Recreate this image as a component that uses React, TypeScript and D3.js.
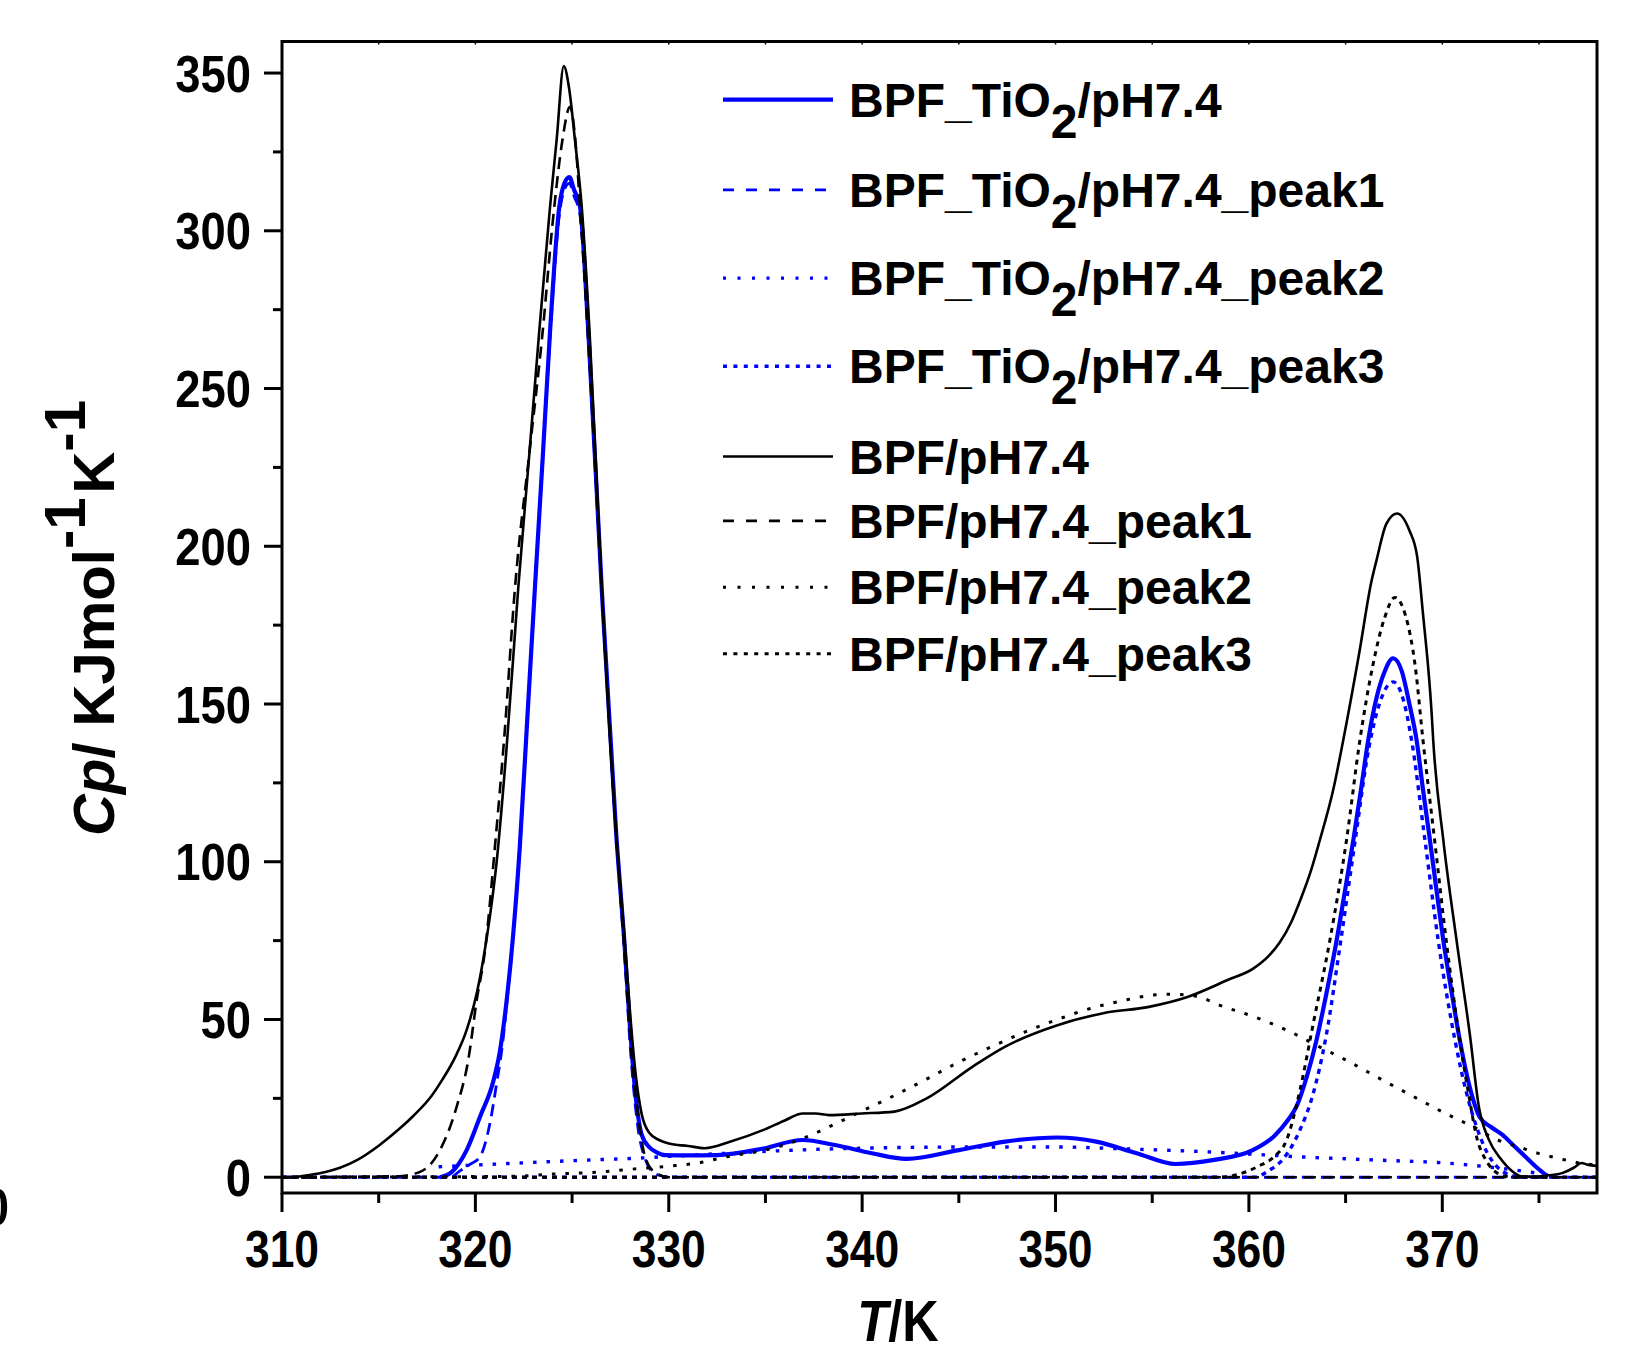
import React from "react";
import * as d3 from "d3";

// [T (K), Cp (kJ/mol/K)]
const tio2Total: [number, number][] = [
  [318.17, 0], [318.77, 1.6], [319.55, 8.6], [320.24, 19.2], [320.93, 30.5], [321.27, 40],
  [321.62, 56.2], [321.96, 77.3], [322.3, 105], [322.7, 147], [323.08, 187], [323.5, 230],
  [323.86, 268], [324.34, 307.6], [324.6, 315], [324.86, 317], [325.1, 313], [325.41, 307.6],
  [325.84, 268], [326.53, 187], [327.3, 107], [327.7, 75], [328.0, 47], [328.3, 25],
  [328.6, 13.5], [329.0, 9.5], [329.4, 7.8], [329.83, 7.0], [331, 6.9], [332.5, 7.0],
  [334.9, 9.1], [336.9, 11.8], [338.6, 10.2], [340.5, 7.6], [342.3, 5.8], [345.0, 8.6],
  [347.4, 11.3], [350.1, 12.6], [352.1, 11.3], [354.2, 7.6], [356.2, 4.2], [358.2, 5.5],
  [360.2, 8.6], [361.3, 13], [362.0, 18], [362.47, 22.5], [363, 32], [363.5, 43.6],
  [364, 58], [364.54, 75.2], [365, 92], [365.4, 106.9], [365.8, 123], [366.17, 138.6],
  [366.6, 152], [367, 160], [367.46, 164.5], [367.9, 160.5], [368.3, 150], [368.67, 138.6],
  [369, 123], [369.36, 106.9], [369.7, 91], [370.05, 75.2], [370.5, 58], [370.9, 43.6],
  [371.4, 29], [371.94, 19], [372.5, 16], [373.1, 13.5], [373.7, 10], [374.3, 6.5],
  [374.9, 3], [375.4, 0.5],
];

const tio2Peak1: [number, number][] = [
  [310, 0], [318.7, 0], [319.2, 2], [319.7, 4], [320.24, 6.5], [320.75, 17], [321.1, 29.8],
  [321.4, 42], [321.7, 60], [322.0, 80], [322.3, 105], [322.7, 147], [323.08, 187],
  [323.5, 230], [323.86, 266], [324.34, 305], [324.6, 313], [324.86, 315], [325.1, 311],
  [325.41, 305], [325.84, 266], [326.53, 187], [327.3, 107], [327.7, 73], [328.0, 42],
  [328.4, 16], [328.8, 5.5], [329.2, 1.5], [329.7, 0.3], [330.1, 0], [378, 0],
];

const tio2Peak2: [number, number][] = [
  [318.1, 3.3], [320.2, 3.9], [323.7, 4.9], [326.5, 5.6], [328.3, 6.0], [330, 6.6],
  [333, 7.6], [336.6, 8.6], [340, 9.2], [343, 9.5], [346.7, 9.6], [350, 9.6], [353.5, 9.0],
  [356.9, 8.3], [360.2, 7.3], [362.5, 6.5], [366.8, 5.4], [370.4, 4.4], [372, 3.5],
  [373.7, 2.3], [375, 1.2], [375.8, 0.4],
];

const tio2Peak3: [number, number][] = [
  [310, 0], [360.3, 0], [361, 2], [361.8, 6], [362.64, 15], [363.3, 26], [364.0, 45],
  [364.75, 75], [365.5, 107], [366.2, 136], [366.8, 151], [367.46, 157], [368, 151],
  [368.41, 138.6], [369.1, 107], [369.79, 75], [370.65, 43.6], [371.2, 28], [371.77, 16],
  [372.3, 8], [372.8, 3.5], [373.3, 1.2], [373.8, 0.3], [374.3, 0], [378, 0],
];

const bpfTotal: [number, number][] = [
  [310.0, 0], [310.8, 0.2], [311.5, 0.8], [312.2, 1.6], [313.0, 3], [313.9, 5.5], [315.0, 10],
  [316.1, 15.5], [316.8, 19.5], [317.7, 25.5], [318.3, 31], [318.95, 38], [319.55, 46.7],
  [320.07, 58.3], [320.4, 68.8], [320.75, 82.6], [321.1, 100], [321.6, 135], [322.22, 187],
  [322.8, 230], [323.3, 268], [323.86, 307.6], [324.2, 328.7], [324.57, 352.2], [324.85, 345],
  [325.15, 328.7], [325.5, 307.6], [325.93, 265], [326.53, 187], [327.3, 107], [327.7, 77],
  [328.0, 52], [328.3, 32], [328.6, 20], [329.0, 14], [329.5, 11.8], [330.0, 10.7],
  [331.0, 9.9], [331.86, 9.2], [333.2, 11.3], [334.9, 15], [336.0, 18], [336.93, 20.2],
  [337.6, 20.2], [338.28, 19.7], [339.97, 20.2], [341.66, 20.8], [343.34, 25], [345.7, 35],
  [347.4, 41.4], [350.1, 48.2], [352.47, 52], [354.83, 54], [356.86, 57.2], [358.9, 62.5],
  [360.24, 66.2], [361.0, 70], [361.6, 74.5], [362.2, 81], [362.7, 88.5], [363.2, 97],
  [363.67, 106.9], [364.36, 122.8], [364.88, 138.6], [365.7, 166], [366.34, 189],
  [366.6, 195.6], [367.1, 207], [367.65, 210.4], [368.3, 205], [368.7, 196.7], [369.0, 178.7],
  [369.45, 147], [369.53, 138.6], [370.05, 107], [370.74, 75], [371.43, 45], [371.9, 22],
  [372.4, 12], [373.0, 6], [373.6, 2], [374.1, 0.3], [374.8, 0.2], [375.5, 0.6], [376.2, 1.3],
  [376.8, 3], [377.2, 4.5], [377.5, 4], [378, 3.6],
];

const bpfPeak1: [number, number][] = [
  [310, 0], [316.0, 0.3], [317.14, 1.7], [318.17, 8.6], [319.03, 22.3], [319.63, 37.1],
  [320.07, 56.2], [320.5, 72], [321.0, 104], [321.5, 140], [322.05, 187], [322.8, 230],
  [323.43, 265], [324.08, 307.6], [324.5, 328.7], [324.89, 339.3], [325.15, 330],
  [325.41, 307.6], [325.84, 265], [326.53, 187], [327.3, 107], [327.7, 72], [328.0, 45],
  [328.4, 20], [328.8, 6], [329.3, 1.5], [330, 0], [378, 0],
];

const bpfPeak2: [number, number][] = [
  [310, 0], [322, 0.3], [324, 1], [326, 1.5], [328, 2.5], [330, 3.5], [331.5, 4.5], [333, 6.5],
  [334.9, 8.5], [336.6, 11.5], [338.3, 16], [340, 21], [341.7, 26], [343.3, 31], [345, 36.5],
  [346.7, 41.4], [348.4, 46], [350.1, 50], [351.8, 53.5], [353.5, 56], [355, 57.7],
  [355.8, 58], [356.7, 57.8], [357.5, 57], [358.5, 54.5], [360.2, 51], [362, 46.5],
  [363.6, 41.5], [365, 37.2], [367, 30.5], [368.5, 25.6], [370.4, 19.5], [371.6, 16],
  [372.8, 12], [374, 9.5], [375, 7.5], [376, 6], [377, 4.6], [378, 3.8],
];

const bpfPeak3: [number, number][] = [
  [310, 0], [358.5, 0], [359.5, 1], [360.5, 3.5], [361.3, 6.5], [361.95, 11.8], [362.64, 27.6],
  [363.33, 48.8], [364.19, 75.2], [365.05, 107], [365.74, 138.6], [366.4, 162], [367, 177],
  [367.55, 183.8], [368.1, 178], [368.6, 162], [369.0, 138.6], [369.6, 107], [370.2, 75.2],
  [370.9, 43.6], [371.4, 25], [371.77, 12.9], [372.3, 5], [372.8, 1.5], [373.4, 0.2],
  [374, 0], [378, 0],
];

const xTicks = [310, 320, 330, 340, 350, 360, 370];
const xMinor = [315, 325, 335, 345, 355, 365, 375];
const yTicks = [0, 50, 100, 150, 200, 250, 300, 350];
const yMinor = [25, 75, 125, 175, 225, 275, 325];

const BLUE = "#0000ff";
const FONT = "'Liberation Sans', Arial, Helvetica, sans-serif";

// drawing order: TiO2 first, BPF on top
const series = [
  { name: "tio2Peak1", data: tio2Peak1, color: BLUE, width: 2.8, dash: "12,7", legendDash: "11,12" },
  { name: "tio2Peak2", data: tio2Peak2, color: BLUE, width: 3.4, dash: "3.5,10", legendDash: "3,11.5" },
  { name: "tio2Peak3", data: tio2Peak3, color: BLUE, width: 3.4, dash: "5,5", legendDash: "4,6.4" },
  { name: "tio2Total", data: tio2Total, color: BLUE, width: 4.2, dash: null, legendDash: null },
  { name: "bpfPeak1", data: bpfPeak1, color: "#000", width: 2.6, dash: "12,7", legendDash: "11,12" },
  { name: "bpfPeak2", data: bpfPeak2, color: "#000", width: 3, dash: "3.5,10", legendDash: "3,11.5" },
  { name: "bpfPeak3", data: bpfPeak3, color: "#000", width: 3, dash: "5,5", legendDash: "4,6.4" },
  { name: "bpfTotal", data: bpfTotal, color: "#000", width: 2.6, dash: null, legendDash: null },
];

const legendItems = [
  { key: "tio2Total", tio2: true, suffix: "/pH7.4" },
  { key: "tio2Peak1", tio2: true, suffix: "/pH7.4_peak1" },
  { key: "tio2Peak2", tio2: true, suffix: "/pH7.4_peak2" },
  { key: "tio2Peak3", tio2: true, suffix: "/pH7.4_peak3" },
  { key: "bpfTotal", tio2: false, suffix: "BPF/pH7.4" },
  { key: "bpfPeak1", tio2: false, suffix: "BPF/pH7.4_peak1" },
  { key: "bpfPeak2", tio2: false, suffix: "BPF/pH7.4_peak2" },
  { key: "bpfPeak3", tio2: false, suffix: "BPF/pH7.4_peak3" },
];
const legendY = [99.6, 189.9, 278.1, 366.3, 456.5, 520.9, 587.3, 653.7];

export default function App() {
  const W = 1627;
  const H = 1348;
  const left = 282, right = 1597, top = 41.5, bottom = 1193;

  const x = d3.scaleLinear().domain([310, 378]).range([left, right]);
  const y = d3.scaleLinear().domain([-5, 360]).range([bottom, top]);

  const line = d3
    .line<[number, number]>()
    .x((d) => x(d[0]))
    .y((d) => y(d[1]))
    .curve(d3.curveMonotoneX);

  const byName = Object.fromEntries(series.map((s) => [s.name, s]));

  return (
    <>
      <style>{`body{margin:0;background:#fff}`}</style>
      <svg width={W} height={H} style={{ display: "block" }} fontFamily={FONT} fontWeight="bold">
        <rect x={0} y={0} width={W} height={H} fill="#fff" />
        <defs>
          <clipPath id="plot-clip">
            <rect x={left} y={top} width={right - left} height={bottom - top} />
          </clipPath>
        </defs>

        {/* curves */}
        <g clipPath="url(#plot-clip)" fill="none">
          {series.map((s) => (
            <path
              key={s.name}
              d={line(s.data) ?? ""}
              stroke={s.color}
              strokeWidth={s.width}
              strokeDasharray={s.dash ?? undefined}
              strokeLinejoin="round"
            />
          ))}
        </g>

        {/* frame */}
        <rect x={left} y={top} width={right - left} height={bottom - top} fill="none" stroke="#000" strokeWidth={3} />

        {/* ticks */}
        <g stroke="#000" strokeWidth={3}>
          {xTicks.map((t) => (
            <line key={"xt" + t} x1={x(t)} x2={x(t)} y1={bottom} y2={bottom + 19} />
          ))}
          {xMinor.map((t) => (
            <line key={"xm" + t} x1={x(t)} x2={x(t)} y1={bottom} y2={bottom + 10} />
          ))}
          {[...xTicks, ...xMinor].map((t) => (
            <line key={"xtop" + t} x1={x(t)} x2={x(t)} y1={top} y2={top + 3} strokeWidth={1.5} />
          ))}
          {yTicks.map((t) => (
            <line key={"yt" + t} x1={left - 18} x2={left} y1={y(t)} y2={y(t)} />
          ))}
          {yMinor.map((t) => (
            <line key={"ym" + t} x1={left - 9} x2={left} y1={y(t)} y2={y(t)} />
          ))}
        </g>

        {/* tick labels */}
        <g fontSize={51} fill="#000">
          {xTicks.map((t) => (
            <g key={"xl" + t} transform={`translate(${x(t)},1267) scale(0.87,1)`}>
              <text textAnchor="middle">{t}</text>
            </g>
          ))}
          {yTicks.map((t) => (
            <g key={"yl" + t} transform={`translate(251,${y(t) + 18.5}) scale(0.89,1)`}>
              <text textAnchor="end">{t}</text>
            </g>
          ))}
          {/* stray label cut at the left edge, as in the reference */}
          <g transform="translate(9,1225) scale(0.89,1)">
            <text textAnchor="end">0</text>
          </g>
        </g>

        {/* axis titles */}
        <g transform="translate(898,1341) scale(0.87,1)">
          <text textAnchor="middle" fontSize={58}>
            <tspan fontStyle="italic">T</tspan>/K
          </text>
        </g>
        <text transform="translate(114,618) rotate(-90)" textAnchor="middle" fontSize={58}>
          <tspan fontStyle="italic">Cp</tspan>/ KJmol
          <tspan dy={-29}>-1</tspan>
          <tspan dy={29} dx={4}>K</tspan>
          <tspan dy={-29}>-1</tspan>
        </text>

        {/* legend */}
        <g>
          {legendItems.map((it, i) => {
            const s = byName[it.key];
            const ly = legendY[i];
            return (
              <g key={it.key}>
                <line
                  x1={723}
                  x2={833}
                  y1={ly}
                  y2={ly}
                  stroke={s.color}
                  strokeWidth={s.width}
                  strokeDasharray={s.legendDash ?? undefined}
                />
                <text x={849} y={ly + 17} fontSize={48} fill="#000">
                  {it.tio2 ? (
                    <>
                      BPF_TiO<tspan dy={21}>2</tspan>
                      <tspan dy={-21}>{it.suffix}</tspan>
                    </>
                  ) : (
                    it.suffix
                  )}
                </text>
              </g>
            );
          })}
        </g>
      </svg>
    </>
  );
}
